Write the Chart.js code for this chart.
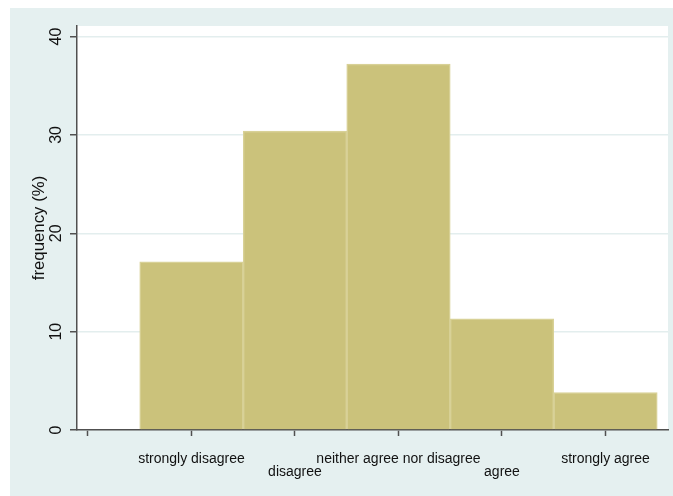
<!DOCTYPE html>
<html>
<head>
<meta charset="utf-8">
<script src="https://cdn.jsdelivr.net/npm/chart.js@4"></script>
<style>
  html, body { margin: 0; padding: 0; background: #ffffff; }
  canvas { display: block; }
</style>
</head>
<body>
<canvas id="histogram" width="673" height="496"></canvas>
<script>
// Histogram data
const categories = ['strongly disagree', 'disagree', 'neither agree nor disagree', 'agree', 'strongly agree'];
const categoryCodes = [1, 2, 3, 4, 5];
const frequencies = [17.1, 30.4, 37.2, 11.3, 3.8];
const xTickValues = [0, 1, 2, 3, 4, 5];
const yTickValues = [0, 10, 20, 30, 40];

const fontFamily = "'Liberation Sans', Arial, Helvetica, sans-serif";

// Stata-like backdrop: bluish outer region, white plot region
const backdrop = {
    id: 'backdrop',
    beforeDraw(chart) {
        const { ctx, chartArea } = chart;
        ctx.save();
        ctx.fillStyle = '#ffffff';
        ctx.fillRect(0, 0, chart.width, chart.height);
        ctx.fillStyle = '#e5f0f0';
        ctx.fillRect(10, 8, chart.width - 10, chart.height - 8);
        ctx.fillStyle = '#ffffff';
        ctx.fillRect(chartArea.left, chartArea.top, chartArea.right - chartArea.left, chartArea.bottom - chartArea.top);
        ctx.restore();
    }
};

// Label for an x tick, lower row for every second category
function xLabel(value) {
    const i = categoryCodes.indexOf(value);
    if (i < 0) return '';
    return (i % 2 === 1) ? ['', categories[i]] : categories[i];
}

const ctx = document.getElementById('histogram').getContext('2d');
new Chart(ctx, {
    type: 'bar',
    data: {
        datasets: [{
            label: 'frequency (%)',
            data: categoryCodes.map((c, i) => ({ x: c, y: frequencies[i] })),
            backgroundColor: '#cbc27b',
            borderColor: '#d8d197',
            borderWidth: 1.5,
            barPercentage: 1,
            categoryPercentage: 1
        }]
    },
    plugins: [backdrop],
    options: {
        responsive: false,
        animation: false,
        devicePixelRatio: 1,
        layout: { padding: { top: 26, right: 5, bottom: 0, left: 0 } },
        plugins: {
            legend: { display: false },
            tooltip: { enabled: false }
        },
        scales: {
            x: {
                type: 'linear',
                offset: false,
                min: -0.106,
                max: 5.604,
                afterFit: scale => { scale.height = 66; },
                afterBuildTicks: scale => { scale.ticks = xTickValues.map(v => ({ value: v })); },
                border: { display: true, color: '#505050', width: 1.5 },
                grid: {
                    offset: false,
                    drawOnChartArea: false,
                    drawTicks: true,
                    tickLength: 6,
                    tickColor: '#505050',
                    tickWidth: 1.5
                },
                ticks: {
                    autoSkip: false,
                    maxRotation: 0,
                    minRotation: 0,
                    padding: 17,
                    color: '#111111',
                    font: { family: fontFamily, size: 14, lineHeight: 0.9 },
                    callback: value => xLabel(value)
                }
            },
            y: {
                type: 'linear',
                min: 0,
                max: 41.07,
                afterFit: scale => { scale.width = 77; },
                afterBuildTicks: scale => { scale.ticks = yTickValues.map(v => ({ value: v })); },
                border: { display: true, color: '#505050', width: 1.5 },
                grid: {
                    color: '#e3eeee',
                    lineWidth: 1.5,
                    drawTicks: true,
                    tickLength: 7,
                    tickColor: '#505050',
                    tickWidth: 1.5
                },
                ticks: {
                    minRotation: 90,
                    maxRotation: 90,
                    crossAlign: 'center',
                    padding: 4.5,
                    color: '#111111',
                    font: { family: fontFamily, size: 16 },
                    callback: value => String(value)
                },
                title: {
                    display: true,
                    text: 'frequency (%)',
                    color: '#111111',
                    font: { family: fontFamily, size: 16.8 },
                    padding: { top: 29, bottom: 0 }
                }
            }
        }
    }
});
</script>
</body>
</html>
